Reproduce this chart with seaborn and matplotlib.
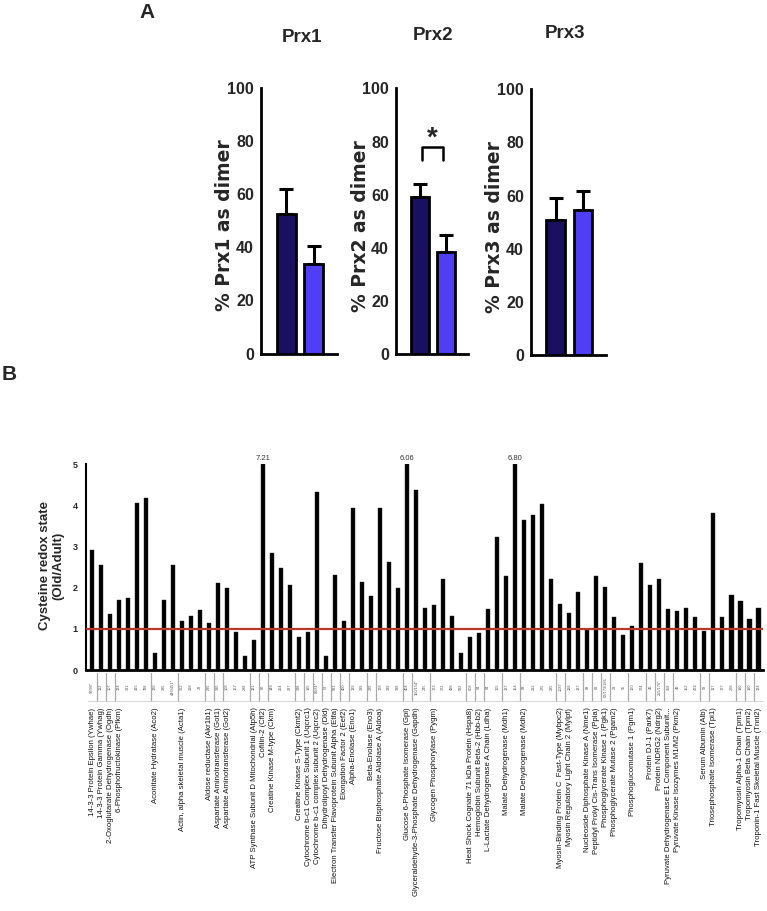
import numpy as np
import pandas as pd
import matplotlib
matplotlib.use("Agg")
import matplotlib.pyplot as plt
import matplotlib.transforms as mtrans
import seaborn as sns

# ---------------- data ----------------
groups = ["Adult", "Old"]
prx_titles = ["Prx1", "Prx2", "Prx3"]
prx1_mean = [52.3, 33.8]
prx1_err = [9.5, 6.6]
prx2_mean = [59.2, 38.5]
prx2_err = [4.9, 6.5]
prx3_mean = [50.8, 54.8]
prx3_err = [8.4, 6.9]

redox_values = [2.92, 2.54, 1.36, 1.71, 1.74, 4.05, 4.18, 0.41, 1.69, 2.56,
                1.19, 1.32, 1.45, 1.15, 2.10, 2.00, 0.92, 0.35, 0.73, 7.21,
                2.83, 2.48, 2.06, 0.81, 0.93, 4.33, 0.35, 2.31, 1.20, 3.93,
                2.14, 1.79, 3.93, 2.63, 1.98, 6.06, 4.36, 1.50, 1.57, 2.20,
                1.30, 0.41, 0.80, 0.91, 1.47, 3.24, 2.29, 6.80, 3.65, 3.77,
                4.04, 2.22, 1.60, 1.39, 1.90, 0.98, 2.29, 2.02, 1.28, 0.85,
                1.08, 2.60, 2.07, 2.21, 1.47, 1.42, 1.50, 1.28, 0.94, 3.80,
                1.28, 1.81, 1.68, 1.24, 1.50]

cys_sites = ["97/98*", "112", "107", "134", "391", "415", "798", "136", "385", "446/451*",
             "362", "218", "28", "295", "390", "108", "167", "298", "121", "80",
             "146", "254", "287", "388", "195", "80/81*", "53", "591", "400", "139",
             "389", "289", "178", "339", "338", "404", "150/154*", "245", "173", "373",
             "498", "582", "608", "94", "84", "165", "137", "154", "93", "212",
             "275", "285", "1087", "128", "137", "88", "62", "67/173/186", "23", "55",
             "160", "374", "46", "255/176*", "358", "49", "152", "474", "58", "117",
             "177", "268", "190", "190", "134"]

protein_start = [0, 1, 2, 3, 7, 10, 13, 14, 15, 18, 19, 20, 23, 24, 25, 26, 27, 28,
                 29, 31, 32, 35, 36, 38, 42, 43, 44, 46, 48, 52, 53, 55, 56, 57, 58,
                 60, 62, 63, 64, 65, 68, 69, 72, 73, 74]
protein_names = [
    "14-3-3 Protein Epsilon (Ywhae)", "14-3-3 Protein Gamma (Ywhag)",
    "2-Oxoglutarate Dehydrogenase (Ogdh)", "6-Phosphofructokinase (Pfkm)",
    "Aconitate Hydratase (Aco2)", "Actin, alpha skeletal muscle (Acta1)",
    "Aldose reductase (Akr1b1)", "Aspartate Aminotransferase (Got1)",
    "Aspartate Aminotransferase (Got2)", "ATP Synthase Subunit D Mitochondrial (Atp5h)",
    "Cofilin-2 (Cfl2)", "Creatine Kinase M-type (Ckm)", "Creatine Kinase S-Type (Ckmt2)",
    "Cytochrome b-c1 Complex Subunit 1 (Uqcrc1)", "Cytochrome b-c1 complex subunit 2 (Uqcrc2)",
    "Dihydrolipoyl Dehydrogenase (Dld)", "Electron Transfer Flavoprotein Subunit Alpha (Etfa)",
    "Elongation Factor 2 (Eef2)", "Alpha-Enolase (Eno1)", "Beta-Enolase (Eno3)",
    "Fructose Bisphosphate Aldolase A (Aldoa)", "Glucose 6-Phosphate Isomerase (Gpi)",
    "Glyceraldehyde-3-Phosphate Dehydrogenase (Gapdh)", "Glycogen Phosphorylase (Pygm)",
    "Heat Shock Cognate 71 kDa Protein (Hspa8)", "Hemoglobin Subunit Beta-2 (Hbb-b2)",
    "L-Lactate Dehydrogenase A Chain (Ldha)", "Malate Dehydrogenase (Mdh1)",
    "Malate Dehydrogenase (Mdh2)", "Myosin-Binding Protein C  Fast-Type (Mybpc2)",
    "Myosin Regulatory Light Chain 2 (Mylpf)", "Nucleoside Diphosphate Kinase A (Nme1)",
    "Peptidyl Prolyl Cis-Trans Isomerase (Ppia)", "Phosphoglycerate Kinase 1 (Pgk1)",
    "Phosphoglycerate Mutase 2 (Pgam2)", "Phosphoglucomutase 1 (Pgm1)",
    "Protein DJ-1 (Park7)", "Protein NDRG2 (Ndrg2)",
    "Pyruvate Dehydrogenase E1 Component Subunit...", "Pyruvate Kinase Isozymes M1/M2 (Pkm2)",
    "Serum Albumin (Alb)", "Triosephosphate Isomerase (Tpi1)",
    "Tropomyosin Alpha-1 Chain (Tpm1)", "Tropomyosin Beta Chain (Tpm2)",
    "Troponin-1 Fast Skeletal Muscle (Tnni2)"]

# ---------------- style ----------------
sns.set_style("white")
plt.rcParams["font.family"] = ["Liberation Sans", "DejaVu Sans"]
NARROW = ["Liberation Sans Narrow", "Liberation Sans", "DejaVu Sans"]

W, H = 767, 911
fig = plt.figure(figsize=(W / 100, H / 100), dpi=100)


def fx(px):
    return px / W


def fy(py):
    return 1 - py / H


dark = "#1a1060"
light = "#4f3ef3"

# ---------------- panel A ----------------
prx_means = [prx1_mean, prx2_mean, prx3_mean]
prx_errs = [prx1_err, prx2_err, prx3_err]
axA_px = [(261, 337, 87.5, 353.5), (396, 468, 88.3, 354.3), (531, 606, 89.3, 355.3)]
title_px = [(302, 37), (433, 35), (565, 33)]

for k in range(3):
    l, r, t, b = axA_px[k]
    ax = fig.add_axes([fx(l), fy(b), fx(r - l), (b - t) / H])
    df = pd.DataFrame({"group": groups, "value": prx_means[k]})
    sns.barplot(data=df, x="group", y="value", hue="group", palette=[dark, light],
                saturation=1, width=0.7, edgecolor="black", linewidth=2,
                errorbar=None, legend=False, ax=ax, zorder=2)
    ax.errorbar(x=[0, 1], y=prx_means[k], yerr=[[0, 0], prx_errs[k]], fmt="none",
                ecolor="black", elinewidth=2.2, capsize=5, capthick=2.2, zorder=1)
    ax.set_xlim(-0.92, 1.85)
    ax.set_ylim(0, 100)
    ax.set_yticks(range(0, 101, 20))
    ax.set_yticklabels([str(v) for v in range(0, 101, 20)],
                       fontsize=11.5, fontweight="bold", family=NARROW)
    ax.set_xticks([0.5])
    ax.set_xticklabels([""])
    ax.set_xlabel("")
    ax.set_ylabel("")
    ax.tick_params(axis="x", length=8, width=2, direction="out", color="black")
    ax.tick_params(axis="y", length=4, width=2, direction="out", color="black", pad=1)
    for s in ["top", "right"]:
        ax.spines[s].set_visible(False)
    for s in ["left", "bottom"]:
        ax.spines[s].set_linewidth(2)
        ax.spines[s].set_color("black")
    ax.patch.set_alpha(0)
    fig.text(fx(l - 36), fy((t + b) / 2 + 5), f"% {prx_titles[k]} as dimer",
             rotation=90, ha="center", va="center", fontsize=13.5,
             fontweight="bold", family="DejaVu Sans")
    tx, ty = title_px[k]
    fig.text(fx(tx), fy(ty), prx_titles[k], ha="center", va="center",
             fontsize=13.5, fontweight="bold", family=NARROW)
    if k == 1:
        ax.plot([0.08, 0.08, 0.88, 0.88], [73, 78, 78, 73], color="black", lw=1.8,
                clip_on=False)
        ax.text(0.48, 81, "*", ha="center", va="center", fontsize=20,
                fontweight="bold")

fig.text(fx(147), fy(12), "A", ha="center", va="center", fontsize=15,
         fontweight="bold")

# ---------------- panel B ----------------
L, R, T, B = 86, 763, 464, 670
axB = fig.add_axes([fx(L), fy(B), fx(R - L), (B - T) / H])
n = len(redox_values)
shown = np.minimum(np.array(redox_values), 5.0)
dfB = pd.DataFrame({"cys": [f"c{i}" for i in range(n)], "value": shown})
sns.barplot(data=dfB, x="cys", y="value", color="black", saturation=1, width=0.45,
            edgecolor="#222222", linewidth=0.3, errorbar=None, ax=axB, zorder=2)
axB.axhline(1, color="#b8382a", lw=1.6, zorder=3)
for i, v in enumerate(redox_values):
    if v > 5:
        axB.annotate(f"{v:.2f}", (i, 5), xytext=(0, 1.5), textcoords="offset points",
                     ha="center", va="bottom", fontsize=5.5, color="#333333")
axB.set_ylim(0, 5)
axB.set_xlim(-0.67, n - 0.5)
axB.set_yticks(range(6))
axB.set_yticklabels([str(v) for v in range(6)], fontsize=6.5, fontweight="bold")
axB.set_xticks(protein_start)
axB.set_xticklabels(protein_names, rotation=90, fontsize=5.6, color="#111111")
axB.tick_params(axis="x", length=0, pad=27)
axB.tick_params(axis="y", length=3, width=1.2, direction="out", color="black", pad=3)
axB.set_xlabel("")
axB.set_ylabel("")
for s in ["top", "right"]:
    axB.spines[s].set_visible(False)
axB.spines["left"].set_linewidth(1.5)
axB.spines["bottom"].set_linewidth(2)
axB.spines["left"].set_color("black")
axB.spines["bottom"].set_color("black")

trans = mtrans.blended_transform_factory(axB.transData, axB.transAxes)
row_c = -(687 - B) / (B - T)
for i, s in enumerate(cys_sites):
    axB.text(i, row_c, s, transform=trans, rotation=90, ha="center", va="center",
             fontsize=2.8, color="#555555", clip_on=False)
for g in protein_start[1:]:
    axB.plot([g - 0.5, g - 0.5], [-(673 - B) / (B - T), -(701 - B) / (B - T)],
             transform=trans, color="#aaaaaa", lw=0.9, clip_on=False)
axB.plot([-0.5, n - 0.5], [-(701 - B) / (B - T)] * 2, transform=trans,
         color="#cccccc", lw=0.6, clip_on=False)

fig.text(fx(52), fy(566), "Cysteine redox state\n(Old/Adult)", rotation=90,
         ha="center", va="center", fontsize=9.5, fontweight="bold",
         linespacing=1.15)
fig.text(fx(9), fy(374), "B", ha="center", va="center", fontsize=15,
         fontweight="bold")

fig.savefig("out.png", dpi=100)
